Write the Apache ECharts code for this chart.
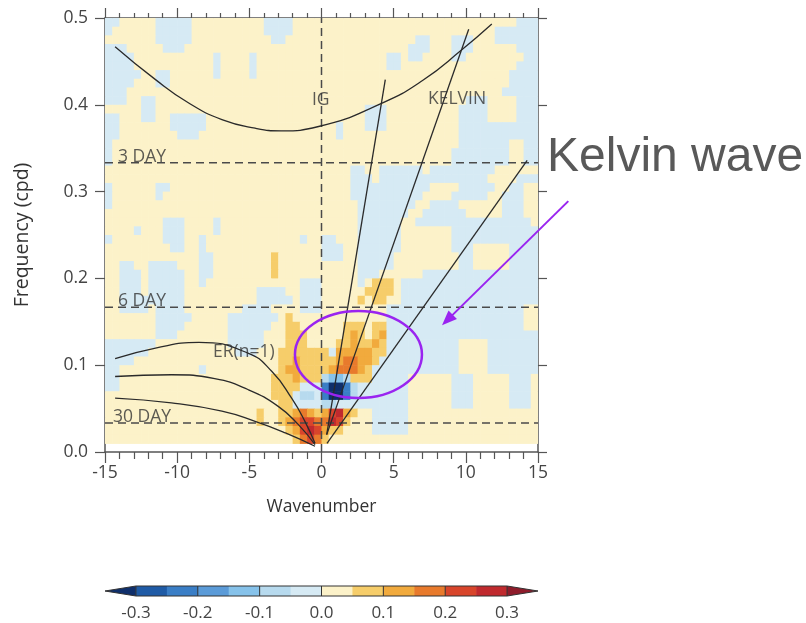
<!DOCTYPE html>
<html><head><meta charset="utf-8">
<script src="https://cdn.jsdelivr.net/npm/echarts@6/dist/echarts.min.js"></script>
<style>html,body{margin:0;padding:0;background:#fff}#chart{width:806px;height:623px}</style>
</head><body><div id="chart"></div>
<script>
// ---------- data ----------
// contour levels (colour bar)
const levelCodes = 'abcdef-.hijklm';           // one code per colour class
const levelColors = ['#0f2f6b','#1f5ba6','#3a7ec6','#5b9bd8','#86c2ea','#b7daee','#d6eaf4',
                     '#fcf2c9','#f6cd6a','#f1aa3d','#e87a2c','#d8452b','#c02a2e','#8e1c2b'];
const colorbarEdges = [-0.35,-0.3,-0.25,-0.2,-0.15,-0.1,-0.05,0,0.05,0.1,0.15,0.2,0.25,0.3,0.35];
const colorbarSeparators = [-0.2,-0.1,0,0.1,0.2];
const colorbarTicks = [-0.3,-0.2,-0.1,0.0,0.1,0.2,0.3];

// anomaly field: rows from f=0.50 (top) down to f=0.01, 60 cells of 0.5 wavenumber from -15 to 15
const kMin = -15, kStep = 0.5, fTop = 0.5, fStep = 0.01;
const anomalyRows = [
"--.....---"+"--........"+"..----...."+".........."+".........."+".......---",
"-......---"+"--........"+"..----...."+".........."+".........."+"....------",
".......---"+"--........"+"...--....."+".........."+"...--...--"+"-...------",
"---.....--"+"-........."+".........."+".........."+"..---...--"+"-......---",
"----......"+".....-...."+"-........."+".........-"+"-.--....--"+"........--",
"----......"+".....-...."+"-........."+".........-"+"-........."+".......---",
"-----..--."+".....-...."+"-........."+".........."+".........."+"......----",
"----...--."+".........."+".........."+".........."+".........."+"......----",
"---......."+".........."+".........."+".........."+".........."+".....-----",
"---..--..."+".........."+".........."+".........."+".........."+"---....---",
".....--..."+".........."+".........."+"......---."+".........-"+"---....---",
"--...--..-"+"----......"+".........."+"......---."+".........-"+"---....---",
"--.......-"+"----......"+".........."+"..-...---."+".........-"+"----------",
"--........"+"---......."+".........."+"..-......."+".........-"+"----------",
"-........."+".........."+".........."+".........."+".........-"+"------..--",
"-........."+".........."+".........."+".........."+"........--"+"------..--",
"-........."+".........."+".........."+".........."+"........--"+"------..--",
".........."+".........."+".........."+"....--..--"+"----.-----"+"----......",
".........."+".........."+".........."+"....---.--"+"----------"+"---....---",
"-......--."+".........."+".........."+"....------"+"-----....-"+"----..--..",
"-......-.."+".........."+".........."+"....------"+"----....--"+"---..---..",
"-........."+".........."+".........."+".....-----"+"---..----."+".....---..",
".........."+".........."+".........."+".....-----"+"--..------"+".....---..",
"........--"+"-....-...."+".........."+".....-----"+"-..-------"+"---------.",
"....-...--"+"-....-...."+".........."+".....-----"+"-.......--"+"----------",
"-.......--"+"-..-......"+".......-.."+"--...-----"+"-.......--"+"----------",
".........-"+"-..-......"+".........."+"---..-----"+"-.......--"+"-.....----",
".........."+"...--....."+"...h......"+"---..-----"+".........-"+"-.....----",
"..--..----"+"...--....."+"...h......"+".....-----"+".........-"+"-.....----",
"..---.----"+"-..--....."+"...h......"+".....---.."+"....------"+"----------",
"..---.----"+"-..-......"+".......---"+".....-.hhh"+".---------"+"----------",
"..---.----"+"-........."+".----..---"+"......hhhh"+".---------"+"----------",
"..--------"+"-........."+".-----.---"+".....h.hh."+".---------"+"----------",
"..----.---"+"-........-"+"---....---"+".........-"+"----------"+"--------..",
".......---"+"--.....---"+"----.h...."+".........-"+"----------"+"--------..",
".......---"+"-......---"+"---..hh..."+"...hhh.hh-"+"----------"+"--------..",
".......---"+".......---"+"--...hhh.."+"...hih.hi-"+"----------"+"----------",
"-------..."+".......---"+"--...hhh.."+"..hhihhih-"+"---------."+"...-------",
"------...."+"........--"+"-...hhhhhh"+"h-iiiiihh-"+"---------."+"...-------",
"----......"+".........."+"....hhihhh"+"hhijjiih--"+"---------."+"...-------",
"--........"+"...-......"+"....hiihhh"+"hijjjih---"+"---------."+"...-------",
"--........"+".........."+"...hhhihhh"+"feefhhh---"+"--......--"+"-.....---.",
"--........"+".........."+"...hhhh---"+"caacf-----"+"--......--"+"-.....---.",
".........."+".........."+"...hhh-ff-"+"caacf-----"+"--......--"+"-.....---.",
".........."+".........."+"....hh----"+"ff--------"+"--......--"+"-.....---.",
".........."+".........."+".h..hhijih"+"iklih..---"+"--........"+"..........",
".........."+".........."+".h..hijkkj"+"jlkh...---"+"--........"+"..........",
".........."+".........."+".....hiklk"+"ihh....---"+"--........"+"..........",
".........."+".........."+"......hjkj"+"h........."+".........."+".........."
];

// dispersion curves [wavenumber, frequency]
const igCurve = [[-14.3,0.467],[-11.5,0.429],[-9.2,0.402],[-6.9,0.383],[-4.6,0.373],[-2.8,0.370],
                 [-0.2,0.375],[4.2,0.402],[7.0,0.428],[9.7,0.463],[11.8,0.493]];
const kelvinLines = [
  [[0.36,0.02],[4.42,0.429]],
  [[0.36,0.02],[10.2,0.487]],
  [[0.38,0.01],[14.25,0.336]]
];
const erCurves = [
  [[-14.3,0.1075],[-11.5,0.1198],[-8.5,0.1263],[-5.1,0.114],[-3.45,0.093],[-2.07,0.062],[-1.14,0.035],[-0.45,0.010]],
  [[-14.3,0.087],[-10.4,0.089],[-7.4,0.0845],[-5.1,0.072],[-3.0,0.0526],[-1.6,0.0315],[-0.45,0.0085]],
  [[-14.3,0.062],[-10.4,0.0565],[-6.9,0.047],[-4.6,0.0353],[-2.5,0.022],[-0.45,0.0066]]
];
const periodDays = [3, 6, 30];
const periodLabels = ['3 DAY', '6 DAY', '30 DAY'];
const waveLabels = ['IG', 'KELVIN', 'ER(n=1)'];
// highlighted region (ellipse: centre k, centre f, half-width k, half-height f) and arrow
const highlightEllipse = [2.56, 0.1123, 4.4, 0.0501];
const arrowLine = [17.1, 0.289, 8.35, 0.146];
const annotationText = 'Kelvin wave';

// ---------- build chart ----------
const FONT = 'Open Sans';
const heatData = [];
anomalyRows.forEach((row, r) => {
  const f = fTop - fStep * (r + 0.5);
  for (let c = 0; c < 60; c++) {
    const ch = row[c] || '.';
    heatData.push([kMin + kStep * (c + 0.5), f, levelCodes.indexOf(ch)]);
  }
});
const colorbarData = [];
for (let i = 0; i < levelColors.length; i++) colorbarData.push([colorbarEdges[i], colorbarEdges[i + 1], i]);

const dashStyle = {color: '#4a4a4a', width: 1.5, type: [8, 5]};
const curveStyle = {color: '#2a2a2a', width: 1.3};
const axisColor = '#555';

const series = [];
series.push({
  type: 'custom', name: 'anomaly', xAxisIndex: 0, yAxisIndex: 0, data: heatData, silent: true, clip: true, z: 1,
  renderItem: (params, api) => {
    const k = api.value(0), f = api.value(1), lv = api.value(2);
    const p0 = api.coord([k - kStep / 2, f + fStep / 2]);
    const p1 = api.coord([k + kStep / 2, f - fStep / 2]);
    return {type: 'rect', shape: {x: p0[0], y: p0[1], width: p1[0] - p0[0] + 0.6, height: p1[1] - p0[1] + 0.6},
            style: {fill: levelColors[lv]}};
  }
});
// period dashed lines
periodDays.forEach(d => {
  series.push({type: 'line', xAxisIndex: 0, yAxisIndex: 0, data: [[-15, 1 / d], [15, 1 / d]], showSymbol: false,
    lineStyle: dashStyle, silent: true, z: 3});
});
series.push({type: 'line', xAxisIndex: 0, yAxisIndex: 0, data: [[0, 0], [0, 0.5]], showSymbol: false,
  lineStyle: dashStyle, silent: true, z: 3});
// dispersion curves
series.push({type: 'line', xAxisIndex: 0, yAxisIndex: 0, data: igCurve, smooth: true, showSymbol: false, lineStyle: curveStyle, silent: true, z: 4});
kelvinLines.forEach(l => series.push({type: 'line', xAxisIndex: 0, yAxisIndex: 0, data: l, showSymbol: false, lineStyle: curveStyle, silent: true, z: 4}));
erCurves.forEach(l => series.push({type: 'line', xAxisIndex: 0, yAxisIndex: 0, data: l, smooth: true, showSymbol: false, lineStyle: curveStyle, silent: true, z: 4}));
// text labels on the diagram
const labelAnchors = [[-14.1, 1 / 3], [-14.1, 1 / 6], [-14.45, 1 / 30], [-0.66, 0.399], [7.38, 0.40], [-7.52, 0.108]];
const labelTexts = periodLabels.concat(waveLabels);
series.push({
  type: 'scatter', xAxisIndex: 0, yAxisIndex: 0, symbolSize: 0, silent: true, z: 5,
  data: labelTexts.map((t, i) => ({name: t, value: labelAnchors[i]})),
  label: {show: true, formatter: '{b}', position: [0, 0], align: 'left', verticalAlign: 'bottom', offset: [0, 3],
    fontFamily: FONT, fontSize: 17.5, color: '#333'}
});
// annotation ellipse
series.push({
  type: 'custom', xAxisIndex: 0, yAxisIndex: 0, data: [highlightEllipse], silent: true, clip: false, z: 6,
  renderItem: (params, api) => {
    const c = api.coord([api.value(0), api.value(1)]);
    const s = api.size([api.value(2), api.value(3)]);
    return {type: 'ellipse', shape: {cx: c[0], cy: c[1], rx: s[0], ry: s[1]},
            style: {fill: 'none', stroke: '#9a24f0', lineWidth: 2.5}};
  }
});
// annotation arrow
series.push({
  type: 'custom', xAxisIndex: 0, yAxisIndex: 0, data: [arrowLine], silent: true, clip: false, z: 6,
  renderItem: (params, api) => {
    const a = api.coord([api.value(0), api.value(1)]);
    const b = api.coord([api.value(2), api.value(3)]);
    const ang = Math.atan2(b[1] - a[1], b[0] - a[0]);
    const L = 15, W = 6;
    const bx = b[0] - L * Math.cos(ang), by = b[1] - L * Math.sin(ang);
    const nx = -Math.sin(ang), ny = Math.cos(ang);
    return {type: 'group', children: [
      {type: 'line', shape: {x1: a[0], y1: a[1], x2: bx + 3 * Math.cos(ang), y2: by + 3 * Math.sin(ang)},
       style: {stroke: '#9a24f0', lineWidth: 2}},
      {type: 'polygon', shape: {points: [[b[0], b[1]], [bx + nx * W, by + ny * W], [bx - nx * W, by - ny * W]]},
       style: {fill: '#9a24f0'}}
    ]};
  }
});
// colour bar
series.push({
  type: 'custom', xAxisIndex: 2, yAxisIndex: 2, data: colorbarData, silent: true, z: 2,
  renderItem: (params, api) => {
    const lo = api.value(0), hi = api.value(1), i = api.value(2);
    const fill = levelColors[i];
    if (i === 0) {
      return {type: 'polygon', shape: {points: [api.coord([lo, 0.5]), api.coord([hi, 1]), api.coord([hi, 0])]}, style: {fill}};
    }
    if (i === levelColors.length - 1) {
      return {type: 'polygon', shape: {points: [api.coord([lo, 1]), api.coord([hi, 0.5]), api.coord([lo, 0])]}, style: {fill}};
    }
    const p0 = api.coord([lo, 1]), p1 = api.coord([hi, 0]);
    return {type: 'rect', shape: {x: p0[0], y: p0[1], width: p1[0] - p0[0] + 0.5, height: p1[1] - p0[1]}, style: {fill}};
  }
});
series.push({
  type: 'custom', xAxisIndex: 2, yAxisIndex: 2, data: [[0]], silent: true, z: 3,
  renderItem: (params, api) => {
    const e0 = colorbarEdges[0], e1 = colorbarEdges[1], e2 = colorbarEdges[colorbarEdges.length - 2], e3 = colorbarEdges[colorbarEdges.length - 1];
    const outline = [api.coord([e0, 0.5]), api.coord([e1, 1]), api.coord([e2, 1]), api.coord([e3, 0.5]), api.coord([e2, 0]), api.coord([e1, 0])];
    const children = [{type: 'polygon', shape: {points: outline}, style: {fill: 'none', stroke: '#333', lineWidth: 1}}];
    colorbarSeparators.concat([e1, e2]).forEach(v => {
      const t = api.coord([v, 1]), b = api.coord([v, 0]);
      children.push({type: 'line', shape: {x1: t[0], y1: t[1], x2: b[0], y2: b[1]}, style: {stroke: '#333', lineWidth: 1}});
    });
    return {type: 'group', children};
  }
});

const tickLabelStyle = {color: '#444', fontFamily: FONT, fontSize: 17.5};
const option = {
  animation: false,
  backgroundColor: '#ffffff',
  textStyle: {fontFamily: FONT},
  grid: [
    {left: 105, right: 268, top: 18, bottom: 171},
    {left: 105, right: 268, top: 586, height: 10}
  ],
  xAxis: [
    {gridIndex: 0, type: 'value', min: -15, max: 15, interval: 5, position: 'bottom',
     name: 'Wavenumber', nameLocation: 'middle', nameGap: 46,
     nameTextStyle: {color: '#333', fontFamily: FONT, fontSize: 17.5},
     axisLine: {onZero: false, lineStyle: {color: axisColor, width: 1.5}},
     axisTick: {length: 11, lineStyle: {color: axisColor, width: 1.2}},
     minorTick: {show: true, splitNumber: 5, length: 7, lineStyle: {color: axisColor, width: 1.2}},
     splitLine: {show: false}, minorSplitLine: {show: false},
     axisLabel: Object.assign({margin: 12}, tickLabelStyle)},
    {gridIndex: 0, type: 'value', min: -15, max: 15, interval: 5, position: 'top',
     axisLine: {onZero: false, lineStyle: {color: axisColor, width: 1.5}},
     axisTick: {length: 10, lineStyle: {color: axisColor, width: 1.2}},
     minorTick: {show: true, splitNumber: 5, length: 5, lineStyle: {color: axisColor, width: 1.2}},
     splitLine: {show: false}, minorSplitLine: {show: false}, axisLabel: {show: false}},
    {gridIndex: 1, type: 'value', min: -0.35, max: 0.35, interval: 0.05,
     axisLine: {show: false}, axisTick: {show: false}, splitLine: {show: false},
     axisLabel: Object.assign({margin: 9, formatter: v => {
        const r = Math.round(v * 100);
        const hit = colorbarTicks.some(t => Math.round(t * 100) === r);
        return hit ? (r / 100).toFixed(1) : '';
     }}, tickLabelStyle, {fontSize: 17})}
  ],
  yAxis: [
    {gridIndex: 0, type: 'value', min: 0, max: 0.5, interval: 0.1,
     name: 'Frequency (cpd)', nameLocation: 'middle', nameGap: 73, nameRotate: 90,
     nameTextStyle: {color: '#333', fontFamily: FONT, fontSize: 19.5},
     axisLine: {onZero: false, lineStyle: {color: axisColor, width: 1.5}},
     axisTick: {length: 10, lineStyle: {color: axisColor, width: 1.2}},
     splitLine: {show: false},
     axisLabel: Object.assign({margin: 17, formatter: v => v.toFixed(1)}, tickLabelStyle)},
    {gridIndex: 0, type: 'value', min: 0, max: 0.5, interval: 0.1, position: 'right',
     axisLine: {onZero: false, lineStyle: {color: axisColor, width: 1.5}},
     axisTick: {length: 9, lineStyle: {color: axisColor, width: 1.2}},
     splitLine: {show: false}, axisLabel: {show: false}},
    {gridIndex: 1, type: 'value', min: 0, max: 1, show: false}
  ],
  graphic: [
    {type: 'text', left: 547, top: 134, z: 10,
     style: {text: annotationText, fill: '#595959', font: '48px "Liberation Sans", Arial, sans-serif'}}
  ],
  series
};
const chart = echarts.init(document.getElementById('chart'), null, {renderer: 'canvas'});
chart.setOption(option);
</script>
</body></html>
